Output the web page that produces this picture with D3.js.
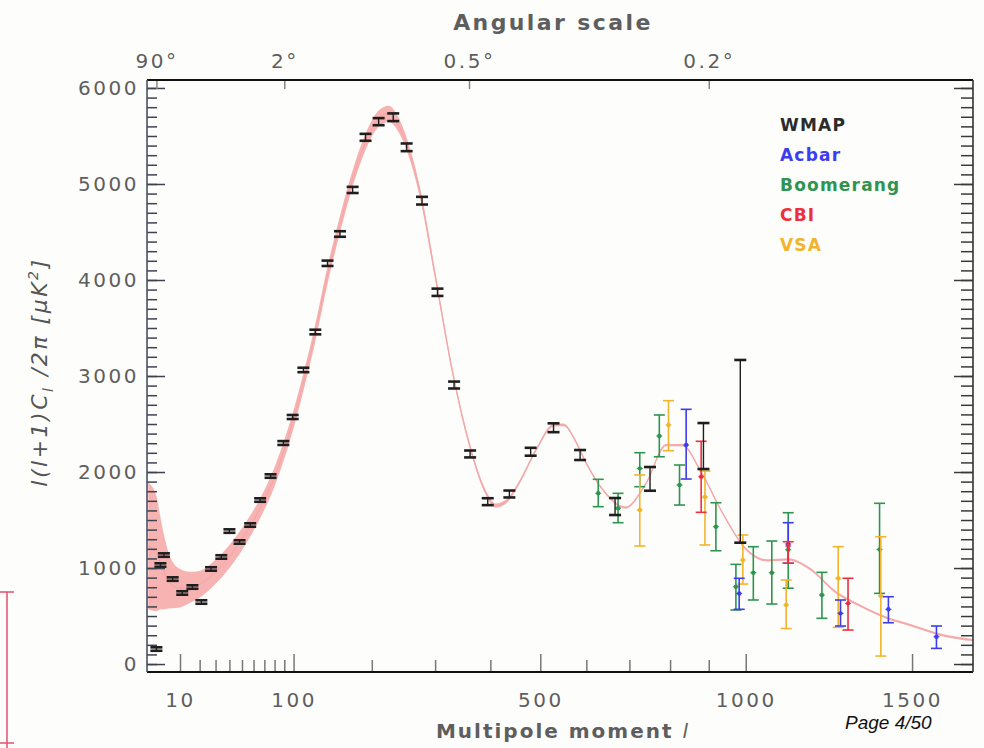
<!DOCTYPE html>
<html>
<head>
<meta charset="utf-8">
<script src="https://cdn.jsdelivr.net/npm/d3@7"></script>
<style>
  body { margin: 0; background: #fdfdfb; }
  svg { display: block; }
  text { font-family: "DejaVu Sans", sans-serif; }
</style>
</head>
<body>
<svg id="chart" width="984" height="748"></svg>
<script>
// best fit model curve: multipole, D_l, half width of the pink band
const modelL = [0.5, 2, 3, 4, 6, 10, 15, 20, 30, 40, 50, 65, 80, 100, 110, 125, 140, 155, 170, 190, 210, 225, 240, 255, 275, 300, 330, 360, 390, 410, 430, 460, 490, 530, 550, 575, 600, 640, 690, 740, 790, 830, 880, 940, 1000, 1060, 1120, 1180, 1260, 1340, 1420, 1500, 1600, 1703];
const modelD = [1230, 1150, 1050, 960, 850, 790, 800, 830, 960, 1120, 1300, 1600, 1950, 2550, 2900, 3450, 4050, 4550, 4980, 5420, 5680, 5730, 5620, 5380, 4900, 4050, 3050, 2300, 1800, 1650, 1690, 1920, 2220, 2490, 2490, 2330, 2090, 1800, 1630, 1880, 2280, 2280, 2000, 1550, 1200, 1080, 1090, 1000, 750, 600, 480, 400, 300, 250];
const modelBand = [660, 600, 480, 390, 270, 200, 160, 140, 125, 120, 115, 105, 100, 95, 92, 90, 90, 88, 86, 85, 85, 85, 75, 65, 55, 45, 35, 30, 25, 22, 20, 18, 16, 15, 14, 14, 13, 12, 12, 12, 12, 12, 12, 12, 12, 12, 12, 12, 12, 12, 12, 12, 12, 12];

// measurements: [l, value, low, high]
const wmap = [
  [2, 156, 138, 174], [3, 1031, 1013, 1049], [4, 1135, 1117, 1153], [7, 885, 867, 903],
  [11, 740, 722, 758], [16, 802, 784, 820], [21, 646, 628, 664], [27, 990, 972, 1008],
  [34, 1115, 1097, 1133], [40, 1385, 1367, 1403], [48, 1271, 1253, 1289], [57, 1448, 1430, 1466],
  [66, 1708, 1690, 1726], [76, 1958, 1940, 1976], [89, 2302, 2282, 2322], [99, 2573, 2552, 2594],
  [111, 3063, 3040, 3086], [125, 3458, 3434, 3482], [140, 4174, 4146, 4202], [156, 4479, 4450, 4508],
  [173, 4938, 4906, 4970], [191, 5486, 5450, 5522], [210, 5649, 5612, 5686], [232, 5695, 5655, 5735],
  [253, 5382, 5342, 5422], [278, 4826, 4786, 4866], [304, 3872, 3834, 3910], [333, 2906, 2870, 2942],
  [362, 2188, 2152, 2224], [395, 1691, 1655, 1727], [437, 1771, 1735, 1807], [480, 2211, 2170, 2252],
  [528, 2461, 2415, 2507], [586, 2177, 2125, 2229], [666, 1639, 1552, 1729], [750, 1927, 1805, 2052],
  [886, 2264, 2031, 2510], [985, 2211, 1264, 3167]
];
const acbar = [
  [841, 2281, 1927, 2653], [982, 735, 570, 893], [1120, 1250, 1050, 1472],
  [1275, 528, 396, 667], [1424, 570, 430, 701], [1580, 284, 163, 396]
];
const boomerang = [
  [627, 1778, 1639, 1924], [673, 1622, 1472, 1778], [725, 2038, 1847, 2201], [773, 2375, 2159, 2594],
  [824, 1865, 1656, 2073], [919, 1430, 1180, 1680], [973, 805, 563, 1038], [1021, 951, 667, 1222],
  [1073, 951, 625, 1281], [1120, 1190, 790, 1576], [1219, 719, 476, 955], [1396, 1194, 736, 1674]
];
const cbi = [
  [880, 1950, 1580, 2320], [1120, 1230, 1050, 1274], [1298, 632, 354, 893]
];
const vsa = [
  [725, 1604, 1229, 1969], [796, 2490, 2222, 2743], [890, 1740, 1240, 2010], [992, 1083, 833, 1344],
  [1114, 615, 370, 875], [1268, 893, 382, 1222], [1400, 708, 83, 1326]
];

const yMajor = [0, 1000, 2000, 3000, 4000, 5000, 6000];
const xMajor = [10, 100, 500, 1000, 1500];
const xMinor = [20, 30, 40, 50, 60, 70, 80, 90, 200, 300, 400, 600, 700, 800, 900];
const angles = [90, 2, 0.5, 0.2];
const legendNames = ['WMAP', 'Acbar', 'Boomerang', 'CBI', 'VSA'];
const legendColors = ['#2b2b2b', '#3c3cf0', '#2f9450', '#ec3040', '#f2b42c'];

const pLeft = 147, pRight = 973, pTop = 80, pBottom = 672;

const svg = d3.select('#chart');
svg.append('rect').attr('width', 984).attr('height', 748).attr('fill', '#fdfdfb');

// the multipole axis is stretched like l^0.6
const x = d3.scalePow().exponent(0.6).domain([0.35, 1703]).range([pLeft, pRight]);
const y = d3.scaleLinear().domain([-83, 6083]).range([pBottom, pTop]);

svg.append('clipPath').attr('id', 'plot')
  .append('rect').attr('x', pLeft).attr('y', pTop).attr('width', pRight - pLeft).attr('height', pBottom - pTop);

const model = modelL.map((l, i) => ({ l: l, d: modelD[i], w: modelBand[i] }));

const plot = svg.append('g').attr('clip-path', 'url(#plot)');

// cosmic variance band
plot.append('path')
  .datum(model)
  .attr('fill', '#f6a4a4')
  .attr('opacity', 0.85)
  .attr('d', d3.area()
    .x((d) => x(d.l))
    .y0((d) => y(d.d - d.w))
    .y1((d) => y(d.d + d.w))
    .curve(d3.curveMonotoneX));

// model line
plot.append('path')
  .datum(model)
  .attr('fill', 'none')
  .attr('stroke', '#f3a8a8')
  .attr('stroke-width', 1.2)
  .attr('d', d3.line()
    .x((d) => x(d.l))
    .y((d) => y(d.d))
    .curve(d3.curveMonotoneX));

// error bars
function drawSeries(data, color, cap, capWidth, lineWidth, dot) {
  const g = plot.append('g').attr('stroke', color).attr('fill', color);
  const bars = g.selectAll('g').data(data).enter().append('g');
  bars.append('line')
    .attr('x1', (d) => x(d[0])).attr('x2', (d) => x(d[0]))
    .attr('y1', (d) => y(d[2])).attr('y2', (d) => y(d[3]))
    .attr('stroke-width', lineWidth);
  [2, 3].forEach((k) => {
    bars.append('line')
      .attr('x1', (d) => x(d[0]) - cap / 2).attr('x2', (d) => x(d[0]) + cap / 2)
      .attr('y1', (d) => y(d[k])).attr('y2', (d) => y(d[k]))
      .attr('stroke-width', capWidth);
  });
  if (dot) {
    bars.append('circle')
      .attr('cx', (d) => x(d[0])).attr('cy', (d) => y(d[1]))
      .attr('r', 2.2).attr('stroke', 'none');
    bars.append('line')
      .attr('x1', (d) => x(d[0]) - 3).attr('x2', (d) => x(d[0]) + 3)
      .attr('y1', (d) => y(d[1])).attr('y2', (d) => y(d[1]))
      .attr('stroke-width', 1);
  }
}

drawSeries(boomerang, '#2f9450', 11, 1.6, 1.6, true);
drawSeries(vsa, '#f2b42c', 11, 1.6, 1.6, true);
drawSeries(acbar, '#3c3cf0', 11, 1.6, 1.6, true);
drawSeries(cbi, '#ec3040', 11, 1.6, 1.6, true);
drawSeries(wmap, '#1e1e1e', 12, 2.6, 1.4, false);

// axes
function styleAxis(g, color) {
  g.select('.domain').remove();
  g.selectAll('line').attr('stroke', color).attr('stroke-width', 1.5);
  g.selectAll('text')
    .attr('fill', '#5e5e5e')
    .style('font-size', '20px')
    .style('letter-spacing', '2.5px');
}

const yMinor = d3.range(0, 6100, 100);

svg.append('g').attr('transform', `translate(${pLeft},0)`)
  .call(d3.axisLeft(y).tickValues(yMinor).tickSizeInner(-10).tickSizeOuter(0).tickFormat(''))
  .call((g) => styleAxis(g, '#3d4250'));
svg.append('g').attr('transform', `translate(${pLeft},0)`)
  .call(d3.axisLeft(y).tickValues(yMajor).tickSizeInner(-18).tickSizeOuter(0).tickPadding(8).tickFormat(d3.format('d')))
  .call((g) => styleAxis(g, '#3d4250'));

svg.append('g').attr('transform', `translate(${pRight},0)`)
  .call(d3.axisRight(y).tickValues(yMinor).tickSizeInner(-12).tickSizeOuter(0).tickFormat(''))
  .call((g) => styleAxis(g, '#3a3a3a'));
svg.append('g').attr('transform', `translate(${pRight},0)`)
  .call(d3.axisRight(y).tickValues(yMajor).tickSizeInner(-19).tickSizeOuter(0).tickFormat(''))
  .call((g) => styleAxis(g, '#3a3a3a'));

svg.append('g').attr('transform', `translate(0,${pBottom})`)
  .call(d3.axisBottom(x).tickValues(xMinor).tickSizeInner(-12).tickSizeOuter(0).tickFormat(''))
  .call((g) => styleAxis(g, '#777'));
svg.append('g').attr('transform', `translate(0,${pBottom})`)
  .call(d3.axisBottom(x).tickValues(xMajor).tickSizeInner(-18).tickSizeOuter(0).tickPadding(21).tickFormat(d3.format('d')))
  .call((g) => styleAxis(g, '#777'));

// angular scale on top: theta ~ 180 / l
svg.append('g').attr('transform', `translate(0,${pTop})`)
  .call(d3.axisTop(x).tickValues(angles.map((a) => 180 / a)).tickSizeInner(-9).tickSizeOuter(0).tickPadding(12)
    .tickFormat((d, i) => angles[i] + '°'))
  .call((g) => styleAxis(g, '#888'));

// frame
svg.append('line').attr('x1', pLeft).attr('x2', pRight).attr('y1', pTop).attr('y2', pTop)
  .attr('stroke', '#111').attr('stroke-width', 2);
svg.append('line').attr('x1', pLeft).attr('x2', pRight).attr('y1', pBottom).attr('y2', pBottom)
  .attr('stroke', '#111').attr('stroke-width', 2);
svg.append('line').attr('x1', pLeft).attr('x2', pLeft).attr('y1', pTop).attr('y2', pBottom)
  .attr('stroke', '#4a5068').attr('stroke-width', 1.6);
svg.append('line').attr('x1', pRight).attr('x2', pRight).attr('y1', pTop).attr('y2', pBottom)
  .attr('stroke', '#333').attr('stroke-width', 1.6);

// titles
svg.append('text')
  .attr('x', 553).attr('y', 30)
  .attr('text-anchor', 'middle')
  .attr('fill', '#5e5e5e')
  .style('font-size', '22px').style('font-weight', 'bold').style('letter-spacing', '2.4px')
  .text('Angular scale');

const xt = svg.append('text')
  .attr('x', 563).attr('y', 738)
  .attr('text-anchor', 'middle')
  .attr('fill', '#5e5e5e')
  .style('font-size', '20px').style('font-weight', 'bold').style('letter-spacing', '2px');
xt.append('tspan').text('Multipole moment ');
xt.append('tspan').style('font-style', 'italic').style('font-weight', 'normal').text('l');

const yt = svg.append('text')
  .attr('transform', 'translate(47,372) rotate(-90)')
  .attr('text-anchor', 'middle')
  .attr('fill', '#555')
  .style('font-size', '22px').style('font-style', 'italic').style('letter-spacing', '2.5px');
yt.append('tspan').text('l(l+1)C');
yt.append('tspan').attr('dy', 6).style('font-size', '14px').text('l');
yt.append('tspan').attr('dy', -6).text(' /2π  [μK');
yt.append('tspan').attr('dy', -9).style('font-size', '14px').text('2');
yt.append('tspan').attr('dy', 9).text(']');

// legend
svg.selectAll('.legend')
  .data(legendNames)
  .enter()
  .append('text')
  .attr('class', 'legend')
  .attr('x', 780)
  .attr('y', (d, i) => 131 + i * 30)
  .attr('fill', (d, i) => legendColors[i])
  .style('font-size', '17px').style('font-weight', 'bold').style('letter-spacing', '1.2px')
  .text((d) => d);

// slide page number
svg.append('text')
  .attr('x', 845).attr('y', 729)
  .attr('fill', '#111')
  .style('font-family', '"Liberation Sans", Arial, sans-serif')
  .style('font-size', '19px').style('font-style', 'italic')
  .text('Page 4/50');

// red marker at the left edge
const mark = svg.append('g').attr('stroke', '#e2506e').attr('stroke-width', 1.5);
mark.append('line').attr('x1', 7).attr('x2', 7).attr('y1', 592).attr('y2', 748);
mark.append('line').attr('x1', 0).attr('x2', 14).attr('y1', 592).attr('y2', 592);
mark.append('line').attr('x1', 0).attr('x2', 14).attr('y1', 743).attr('y2', 743);
</script>
</body>
</html>
